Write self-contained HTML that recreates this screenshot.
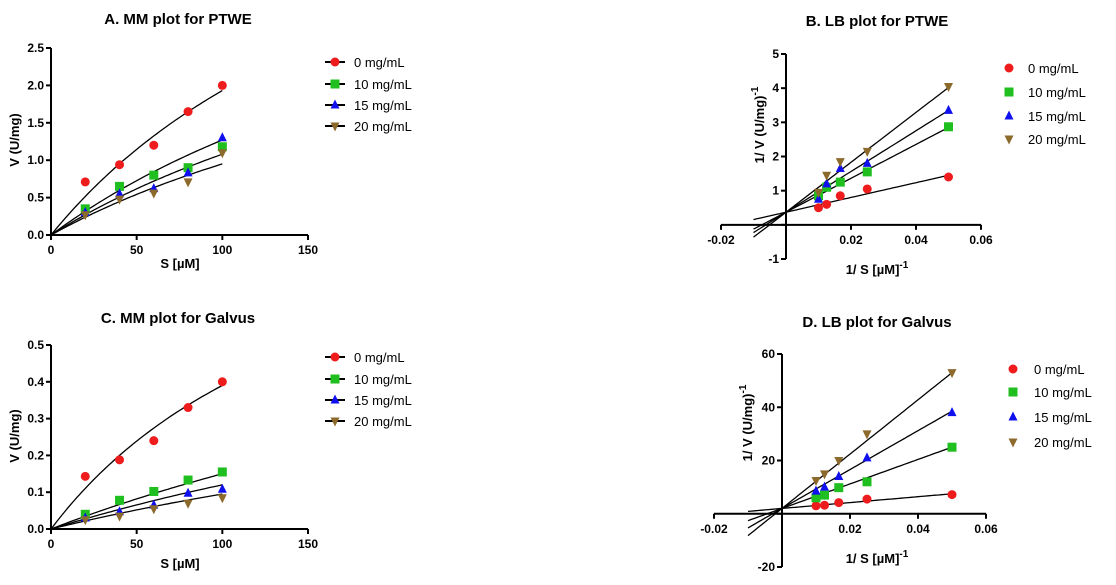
<!DOCTYPE html>
<html><head><meta charset="utf-8">
<style>
body{margin:0;background:#fff;}
svg{display:block;font-family:"Liberation Sans",Arial,sans-serif;font-weight:bold;}
</style></head>
<body>
<svg id="chart" width="1116" height="585" viewBox="0 0 1116 585"></svg>
<script>
// ---------- data ----------
const seriesLabels = ["0 mg/mL","10 mg/mL","15 mg/mL","20 mg/mL"];
const sValues = [20,40,60,80,100];
const invS = [0.01,0.0125,0.0167,0.025,0.05];
// Panel A (MM PTWE)
const aV0 = [0.71,0.94,1.2,1.65,2.0];
const aV10 = [0.35,0.65,0.8,0.9,1.18];
const aV15 = [0.3,0.55,0.62,0.83,1.3];
const aV20 = [0.27,0.48,0.56,0.71,1.1];
const aVmax = [6.16,5.08,4.32,3.8];
const aKm = [219,300,300,300];
// Panel C (MM Galvus)
const cV0 = [0.143,0.188,0.24,0.33,0.4];
const cV10 = [0.04,0.078,0.102,0.133,0.155];
const cV15 = [0.03,0.047,0.065,0.097,0.108];
const cV20 = [0.025,0.035,0.055,0.07,0.085];
const cVmax = [1.065,0.9,0.72,0.57];
const cKm = [173,500,500,500];
// Panel B (LB PTWE)
const bY0 = [0.5,0.6,0.85,1.05,1.4];
const bY10 = [0.85,1.1,1.25,1.55,2.87];
const bY15 = [0.75,1.2,1.65,1.8,3.35];
const bY20 = [0.95,1.45,1.85,2.15,4.05];
const bIntercept = [0.37,0.37,0.37,0.37];
const bSlope = [21.6,49.6,59.6,73];
// Panel D (LB Galvus)
const dY0 = [3,3.2,4.2,5.5,7.2];
const dY10 = [6,7,9.8,12,25];
const dY15 = [8.5,10,14,21,38];
const dY20 = [12.5,15,20,30,53];
const dIntercept = [2,2,2,2];
const dSlope = [110,460,730,1020];
// ticks
const mmXTicks = [0,50,100,150];
const aYTicks = [0.0,0.5,1.0,1.5,2.0,2.5];
const cYTicks = [0.0,0.1,0.2,0.3,0.4,0.5];
const lbXTicks = [-0.02,0.02,0.04,0.06];
const bYTicks = [-1,1,2,3,4,5];
const dYTicks = [-20,20,40,60];

const colors = ["#ee1c1c","#1fbf1f","#1010ee","#8c6a2c"];
const shapes = ["circle","square","up","down"];
const NS = "http://www.w3.org/2000/svg";
const svg = document.getElementById("chart");
function el(tag, attrs, parent){const e=document.createElementNS(NS,tag);for(const k in attrs)e.setAttribute(k,attrs[k]);(parent||svg).appendChild(e);return e;}
function txt(x,y,s,size,anchor,parent){const t=el("text",{x:x,y:y,"font-size":size,"text-anchor":anchor||"middle",fill:"#000"},parent);t.textContent=s;return t;}
function marker(g,i,x,y,r){
  let m;
  if(shapes[i]==="circle") m=el("circle",{cx:x,cy:y,r:r,fill:colors[i]},g);
  else if(shapes[i]==="square") m=el("rect",{x:x-r,y:y-r,width:2*r,height:2*r,fill:colors[i]},g);
  else if(shapes[i]==="up") m=el("polygon",{points:`${x},${y-r-1} ${x-r},${y+r-1} ${x+r},${y+r-1}`,fill:colors[i]},g);
  else m=el("polygon",{points:`${x},${y+r+1} ${x-r},${y-r+1} ${x+r},${y-r+1}`,fill:colors[i]},g);
  return m;
}
function fmtTick(v,dec){return dec?v.toFixed(dec):String(v);}

function panel(cfg){
  const g=el("g",{});
  
  
  const X=v=>cfg.x0px+(v-cfg.xmin)/(cfg.xmax-cfg.xmin)*(cfg.x1px-cfg.x0px);
  const Y=v=>cfg.y0px-(v-cfg.ymin)/(cfg.ymax-cfg.ymin)*(cfg.y0px-cfg.y1px);
  const t=txt(cfg.titleX,cfg.titleY,cfg.title,15,"middle",g);
  
  
  const ax0=X(cfg.yAxisAt), ay0=Y(cfg.xAxisAt);
  const xa=el("line",{x1:X(cfg.xmin),x2:X(cfg.xmax),y1:ay0,y2:ay0,stroke:"#000","stroke-width":2},g);
  
  
  const ya=el("line",{x1:ax0,x2:ax0,y1:Y(cfg.ymin),y2:Y(cfg.ymax),stroke:"#000","stroke-width":2},g);
  
  
  const xt=cfg.xTicksAll||cfg.xTicks;
  xt.forEach(v=>{el("line",{x1:X(v),x2:X(v),y1:ay0,y2:ay0+5,stroke:"#000","stroke-width":2},g);});
  cfg.xTicks.forEach(v=>{const l=txt(X(v),ay0+19,fmtTick(v,cfg.xDec),12,"middle",g);});
  const yt=cfg.yTicksAll||cfg.yTicks;
  yt.forEach(v=>{el("line",{x1:ax0-5,x2:ax0,y1:Y(v),y2:Y(v),stroke:"#000","stroke-width":2},g);});
  cfg.yTicks.forEach(v=>{const l=txt(ax0-7,Y(v)+4,fmtTick(v,cfg.yDec),12,"end",g);});
  const xl=el("text",{x:cfg.xLabelX,y:cfg.xLabelY,"font-size":13,"text-anchor":"middle"},g);
  xl.innerHTML=cfg.xLabel;
  
  
  const yl=el("text",{x:cfg.yLabelX,y:cfg.yLabelY,"font-size":13,"text-anchor":"middle",transform:`rotate(-90 ${cfg.yLabelX} ${cfg.yLabelY})`},g);
  yl.innerHTML=cfg.yLabel;
  
  
  for(let i=0;i<4;i++){
    let d="";
    const n=60;
    for(let k=0;k<=n;k++){
      const xv=cfg.fitFrom+(cfg.fitTo-cfg.fitFrom)*k/n;
      const yv=cfg.fit(i,xv);
      d+=(k?"L":"M")+X(xv).toFixed(1)+","+Y(yv).toFixed(1);
    }
    const p=el("path",{d:d,fill:"none",stroke:"#000","stroke-width":1.3},g);
    
    
  }
  for(let i=0;i<4;i++){
    cfg.ys[i].forEach((v,j)=>{
      const m=marker(g,i,X(cfg.xs[j]),Y(v),4.5);
      
      
    });
  }
  for(let i=0;i<4;i++){
    const ly=cfg.legY[i];
    const lg=el("g",{},g);
    
    
    if(cfg.legLine) el("line",{x1:cfg.legX-10,x2:cfg.legX+10,y1:ly,y2:ly,stroke:"#000","stroke-width":2},lg);
    marker(lg,i,cfg.legX,ly,4.5);
    el("text",{x:cfg.legTextX,y:ly+5,"font-size":13,"font-weight":"normal"},lg).textContent=seriesLabels[i];
  }
}
const mm=(vm,km)=>(i,x)=>vm[i]*x/(km[i]+x);
const lin=(b,s)=>(i,x)=>b[i]+s[i]*x;
const sup='<tspan dy="-6" font-size="10">-1</tspan>';

panel({name:"panel-a-mm-ptwe",title:"A. MM plot for PTWE",titleX:178,titleY:24,
  xmin:0,xmax:150,ymin:0,ymax:2.5,x0px:51,x1px:308,y0px:235,y1px:48,yAxisAt:0,xAxisAt:0,
  xTicks:mmXTicks,yTicks:aYTicks,yDec:1,xLabel:"S [µM]",xLabelX:180,xLabelY:268,yLabel:"V (U/mg)",yLabelX:19,yLabelY:140,
  xs:sValues,ys:[aV0,aV10,aV15,aV20],fit:mm(aVmax,aKm),fitFrom:0,fitTo:100,
  legX:335,legTextX:354,legY:[62,84,105,126],legLine:true});
panel({name:"panel-c-mm-galvus",title:"C. MM plot for Galvus",titleX:178,titleY:323,
  xmin:0,xmax:150,ymin:0,ymax:0.5,x0px:51,x1px:308,y0px:529,y1px:345,yAxisAt:0,xAxisAt:0,
  xTicks:mmXTicks,yTicks:cYTicks,yDec:1,xLabel:"S [µM]",xLabelX:180,xLabelY:568,yLabel:"V (U/mg)",yLabelX:19,yLabelY:436,
  xs:sValues,ys:[cV0,cV10,cV15,cV20],fit:mm(cVmax,cKm),fitFrom:0,fitTo:100,
  legX:335,legTextX:354,legY:[357,379,400,421],legLine:true});
panel({name:"panel-b-lb-ptwe",title:"B. LB plot for PTWE",titleX:877,titleY:26,
  xmin:-0.02,xmax:0.06,ymin:-1,ymax:5,x0px:721,x1px:981,y0px:259,y1px:54,yAxisAt:0,xAxisAt:0,
  xTicks:lbXTicks,xTicksAll:[-0.02,0,0.02,0.04,0.06],yTicks:bYTicks,yTicksAll:[-1,0,1,2,3,4,5],xDec:2,
  xLabel:"1/ S [µM]"+sup,xLabelX:877,xLabelY:274,yLabel:"1/ V  (U/mg)"+sup,yLabelX:764,yLabelY:125,
  xs:invS,ys:[bY0,bY10,bY15,bY20],fit:lin(bIntercept,bSlope),fitFrom:-0.01,fitTo:0.05,
  legX:1009,legTextX:1028,legY:[68,92,116,139],legLine:false});
panel({name:"panel-d-lb-galvus",title:"D. LB plot for Galvus",titleX:877,titleY:327,
  xmin:-0.02,xmax:0.06,ymin:-20,ymax:60,x0px:714,x1px:986,y0px:567,y1px:354,yAxisAt:0,xAxisAt:0,
  xTicks:lbXTicks,xTicksAll:[-0.02,0,0.02,0.04,0.06],yTicks:dYTicks,yTicksAll:[-20,0,20,40,60],xDec:2,
  xLabel:"1/ S [µM]"+sup,xLabelX:877,xLabelY:563,yLabel:"1/ V  (U/mg)"+sup,yLabelX:752,yLabelY:423,
  xs:invS,ys:[dY0,dY10,dY15,dY20],fit:lin(dIntercept,dSlope),fitFrom:-0.01,fitTo:0.05,
  legX:1013,legTextX:1034,legY:[369,392,417,442],legLine:false});
</script>
</body></html>
